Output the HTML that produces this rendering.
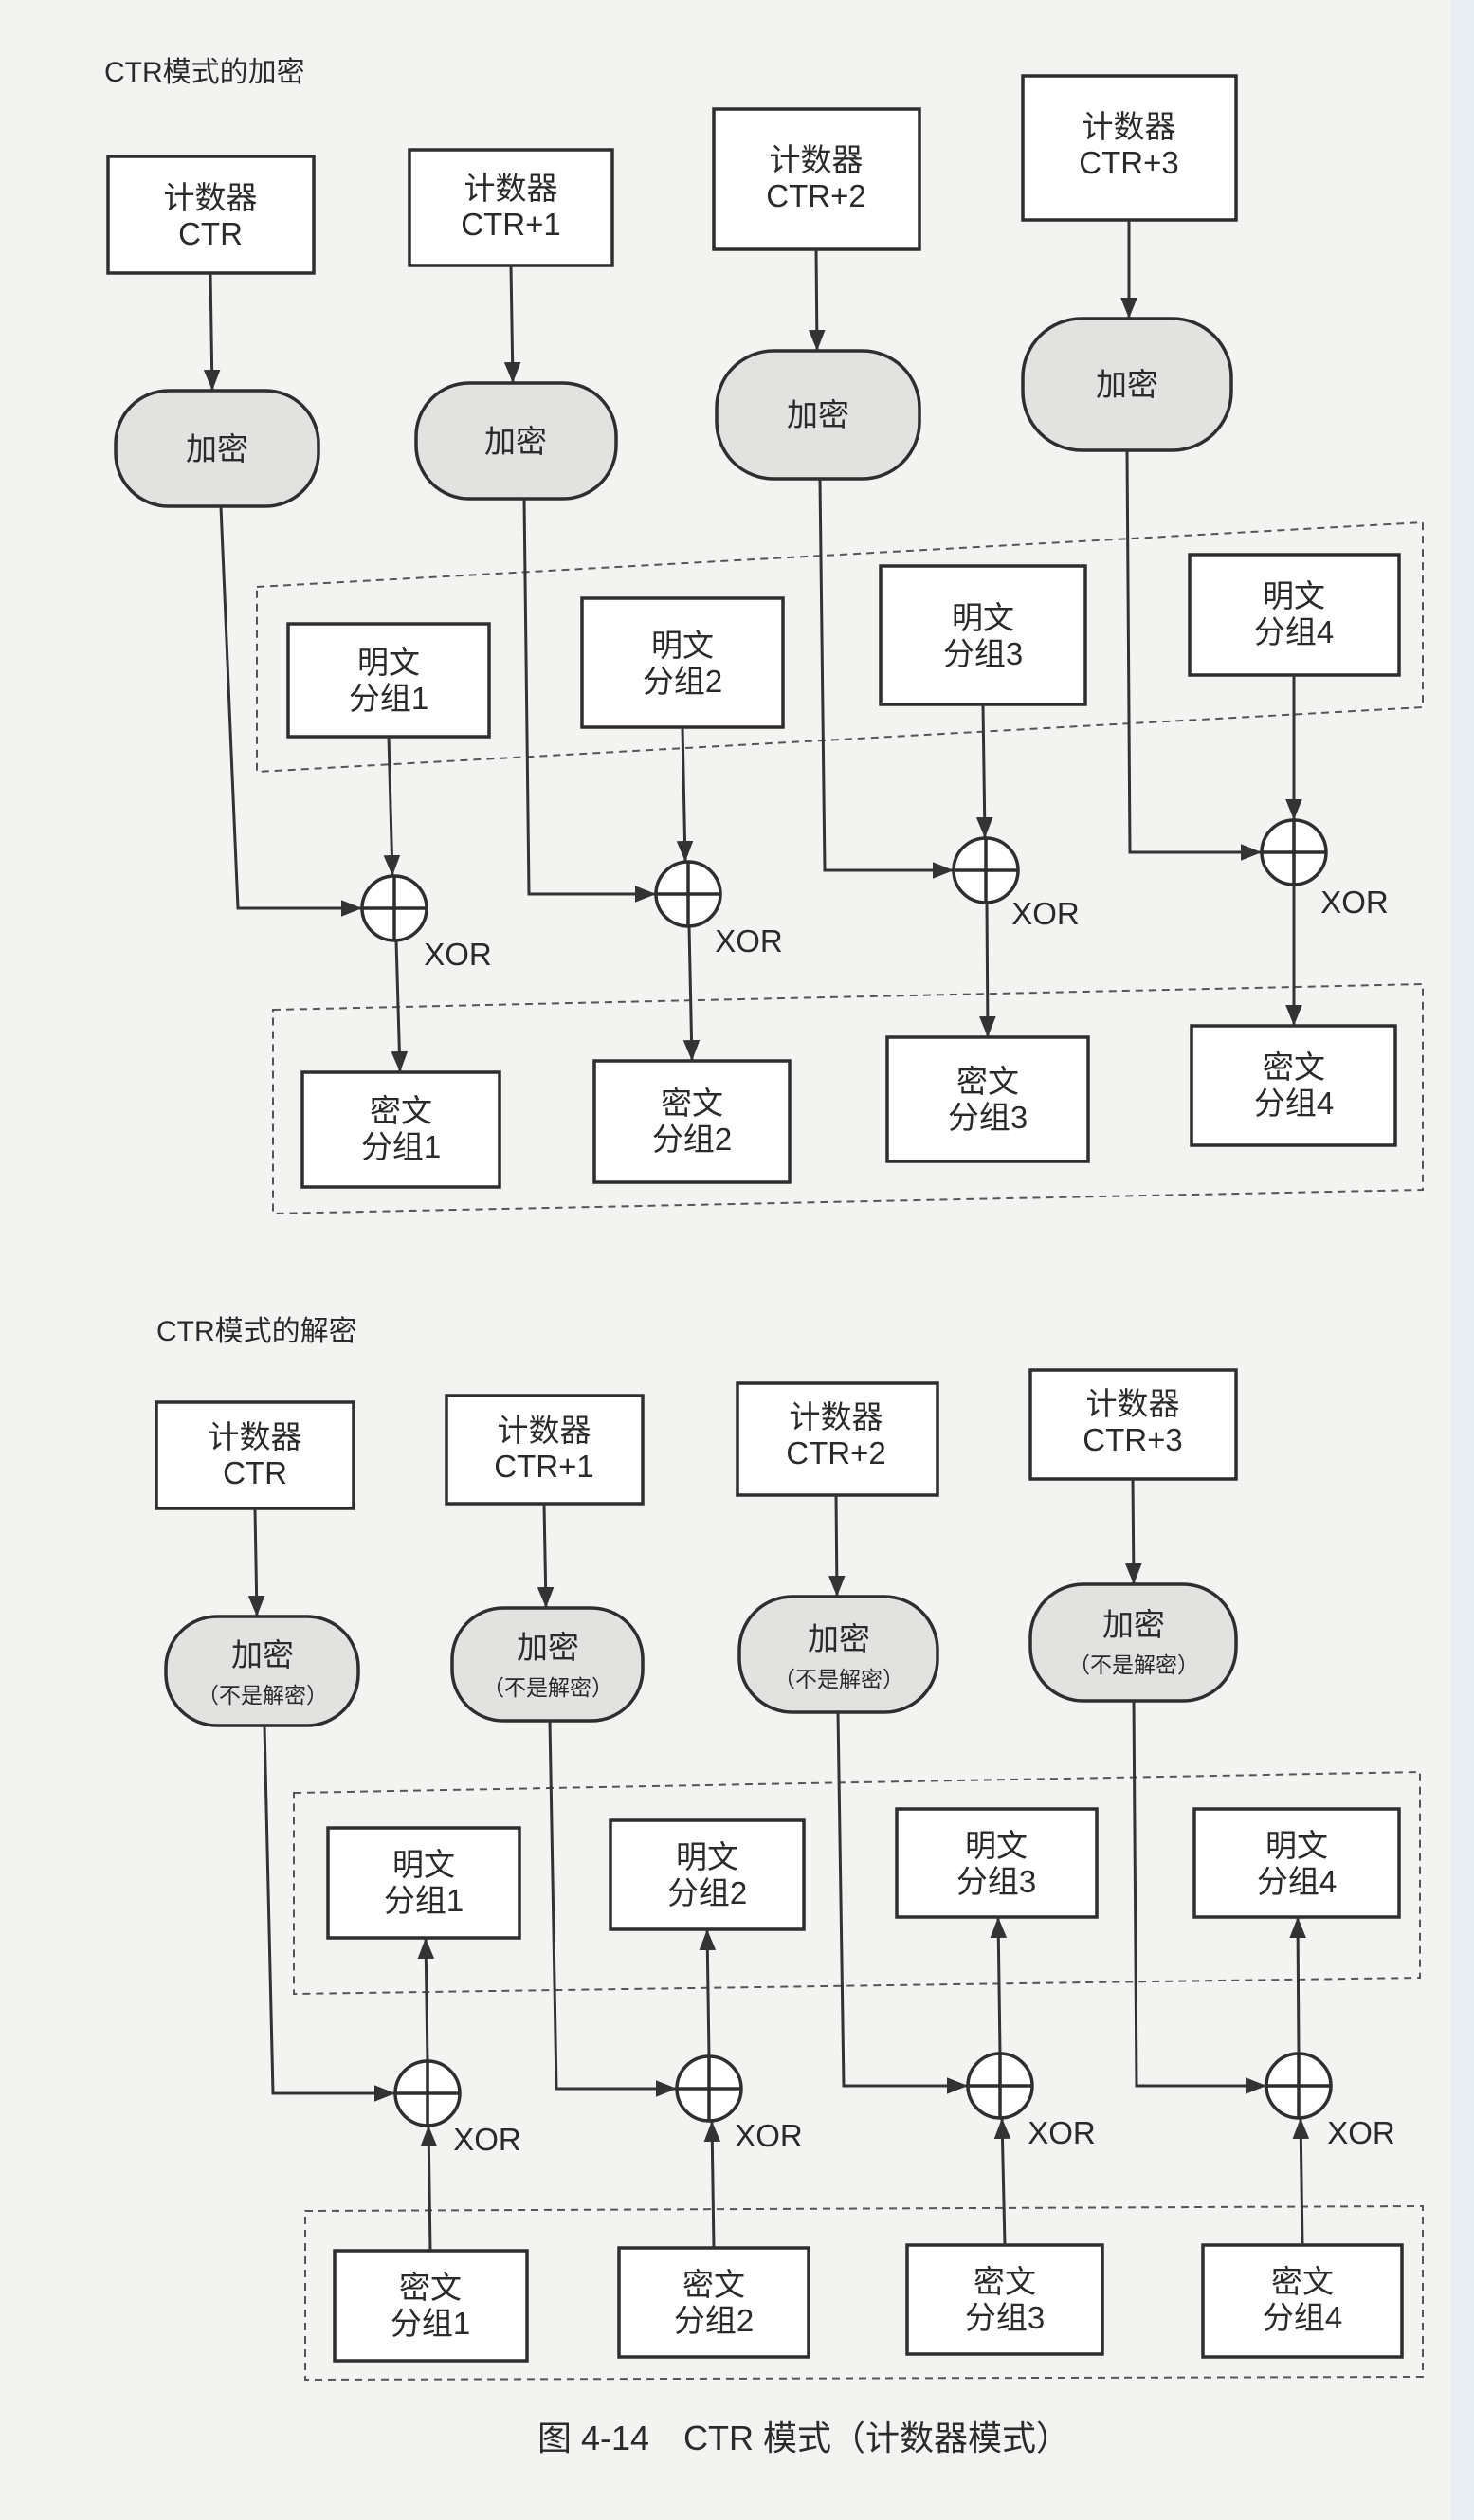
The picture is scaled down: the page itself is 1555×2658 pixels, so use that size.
<!DOCTYPE html>
<html><head><meta charset="utf-8"><style>
html,body{margin:0;padding:0;background:#f3f3f1;}
svg{display:block}
text{font-family:"Liberation Sans","Noto Sans CJK SC",sans-serif;fill:#2a2a2a;text-anchor:middle}
</style></head><body>
<svg width="1555" height="2658" viewBox="0 0 1555 2658" xmlns="http://www.w3.org/2000/svg">
<defs>
<marker id="b" viewBox="0 0 10 10" refX="10" refY="5" markerWidth="22" markerHeight="22" markerUnits="userSpaceOnUse" orient="auto"><path d="M0,1 L10,5 L0,9 z" fill="#333"/></marker>
</defs>
<rect x="1530" y="0" width="25" height="2658" fill="#e8edf2"/>
<g stroke="#2e2e2e" stroke-width="3.5" fill="#fff">
<rect x="114" y="165" width="217" height="123"/>
<rect x="432" y="158" width="214" height="122"/>
<rect x="753" y="115" width="217" height="148"/>
<rect x="1079" y="80" width="225" height="152"/>
<rect x="304" y="658" width="212" height="119"/>
<rect x="614" y="631" width="212" height="136"/>
<rect x="929" y="597" width="216" height="146"/>
<rect x="1255" y="585" width="221" height="127"/>
<rect x="319" y="1131" width="208" height="121"/>
<rect x="627" y="1119" width="206" height="128"/>
<rect x="936" y="1094" width="212" height="131"/>
<rect x="1257" y="1082" width="215" height="126"/>
<rect x="165" y="1479" width="208" height="112"/>
<rect x="471" y="1472" width="207" height="114"/>
<rect x="778" y="1459" width="211" height="118"/>
<rect x="1087" y="1445" width="217" height="115"/>
<rect x="346" y="1928" width="202" height="116"/>
<rect x="644" y="1920" width="204" height="115"/>
<rect x="946" y="1908" width="211" height="114"/>
<rect x="1260" y="1908" width="216" height="114"/>
<rect x="353" y="2374" width="203" height="116"/>
<rect x="653" y="2371" width="200" height="115"/>
<rect x="957" y="2368" width="206" height="115"/>
<rect x="1269" y="2368" width="210" height="118"/>
</g>
<g stroke="#2e2e2e" stroke-width="3.5" fill="#e2e2e0">
<rect x="122" y="412" width="214" height="122" rx="56"/>
<rect x="439" y="404" width="211" height="122" rx="56"/>
<rect x="756" y="370" width="214" height="135" rx="60"/>
<rect x="1079" y="336" width="220" height="139" rx="62"/>
<rect x="175" y="1705" width="203" height="115" rx="54"/>
<rect x="477" y="1696" width="201" height="119" rx="54"/>
<rect x="780" y="1684" width="209" height="122" rx="56"/>
<rect x="1087" y="1671" width="217" height="123" rx="56"/>
</g>
<g stroke="#555" stroke-width="2" stroke-dasharray="8,6" fill="none">
<polygon points="271,619 1501,551 1501,746 271,814"/>
<polygon points="288,1065 1501,1038 1501,1255 288,1280"/>
<polygon points="310,1891 1498,1869 1498,2086 310,2103"/>
<polygon points="322,2332 1501,2327 1501,2507 322,2510"/>
</g>
<g stroke="#333" stroke-width="3" fill="none" marker-end="url(#b)">
<line x1="222" y1="288" x2="224" y2="412"/>
<line x1="539" y1="280" x2="541" y2="404"/>
<line x1="861" y1="263" x2="862" y2="370"/>
<line x1="1191" y1="232" x2="1191" y2="336"/>
<polyline points="233,534 251,958 382,958"/>
<polyline points="553,526 558,943 692,943"/>
<polyline points="865,505 870,918 1006,918"/>
<polyline points="1189,475 1192,899 1331,899"/>
<line x1="410" y1="777" x2="414" y2="924"/>
<line x1="720" y1="767" x2="723" y2="909"/>
<line x1="1037" y1="743" x2="1039" y2="884"/>
<line x1="1365" y1="712" x2="1365" y2="865"/>
<line x1="418" y1="992" x2="422" y2="1131"/>
<line x1="727" y1="977" x2="730" y2="1119"/>
<line x1="1041" y1="952" x2="1042" y2="1094"/>
<line x1="1365" y1="933" x2="1365" y2="1082"/>
<line x1="269" y1="1591" x2="271" y2="1705"/>
<line x1="574" y1="1586" x2="576" y2="1696"/>
<line x1="882" y1="1577" x2="883" y2="1684"/>
<line x1="1195" y1="1560" x2="1196" y2="1671"/>
<polyline points="279,1820 288,2208 417,2208"/>
<polyline points="580,1815 587,2203 714,2203"/>
<polyline points="884,1806 890,2200 1021,2200"/>
<polyline points="1196,1794 1199,2200 1336,2200"/>
<line x1="451" y1="2174" x2="449" y2="2044"/>
<line x1="748" y1="2169" x2="746" y2="2035"/>
<line x1="1055" y1="2166" x2="1053" y2="2022"/>
<line x1="1370" y1="2166" x2="1369" y2="2022"/>
<line x1="454" y1="2374" x2="452" y2="2242"/>
<line x1="753" y1="2371" x2="751" y2="2237"/>
<line x1="1060" y1="2368" x2="1057" y2="2234"/>
<line x1="1374" y1="2368" x2="1372" y2="2234"/>
</g>
<g stroke="#2e2e2e" stroke-width="3.5" fill="#fff">
<circle cx="416" cy="958" r="34"/><circle cx="726" cy="943" r="34"/><circle cx="1040" cy="918" r="34"/><circle cx="1365" cy="899" r="34"/>
<circle cx="451" cy="2208" r="34"/><circle cx="748" cy="2203" r="34"/><circle cx="1055" cy="2200" r="34"/><circle cx="1370" cy="2200" r="34"/>
</g>
<g stroke="#2e2e2e" stroke-width="3.5">
<path d="M382,958h68M416,924v68"/><path d="M692,943h68M726,909v68"/><path d="M1006,918h68M1040,884v68"/><path d="M1331,899h68M1365,865v68"/>
<path d="M417,2208h68M451,2174v68"/><path d="M714,2203h68M748,2169v68"/><path d="M1021,2200h68M1055,2166v68"/><path d="M1336,2200h68M1370,2166v68"/>
</g>
<g font-size="33">
<text x="110" y="86" style="text-anchor:start" font-size="30">CTR模式的加密</text>
<text x="222" y="220">计数器</text><text x="222" y="258">CTR</text>
<text x="539" y="210">计数器</text><text x="539" y="248">CTR+1</text>
<text x="861" y="180">计数器</text><text x="861" y="218">CTR+2</text>
<text x="1191" y="145">计数器</text><text x="1191" y="183">CTR+3</text>
<text x="229" y="485">加密</text><text x="544" y="477">加密</text><text x="863" y="449">加密</text><text x="1189" y="417">加密</text>
<text x="410" y="710">明文</text><text x="410" y="748">分组1</text>
<text x="720" y="692">明文</text><text x="720" y="730">分组2</text>
<text x="1037" y="663">明文</text><text x="1037" y="701">分组3</text>
<text x="1365" y="640">明文</text><text x="1365" y="678">分组4</text>
<text x="423" y="1183">密文</text><text x="423" y="1221">分组1</text>
<text x="730" y="1175">密文</text><text x="730" y="1213">分组2</text>
<text x="1042" y="1152">密文</text><text x="1042" y="1190">分组3</text>
<text x="1365" y="1137">密文</text><text x="1365" y="1175">分组4</text>
<text x="483" y="1018">XOR</text><text x="790" y="1004">XOR</text><text x="1103" y="975">XOR</text><text x="1429" y="963">XOR</text>
<text x="165" y="1414" style="text-anchor:start" font-size="30">CTR模式的解密</text>
<text x="269" y="1527">计数器</text><text x="269" y="1565">CTR</text>
<text x="574" y="1520">计数器</text><text x="574" y="1558">CTR+1</text>
<text x="882" y="1506">计数器</text><text x="882" y="1544">CTR+2</text>
<text x="1195" y="1492">计数器</text><text x="1195" y="1530">CTR+3</text>
<text x="277" y="1757">加密</text><text x="277" y="1796" font-size="23">（不是解密）</text>
<text x="578" y="1749">加密</text><text x="578" y="1788" font-size="23">（不是解密）</text>
<text x="885" y="1740">加密</text><text x="885" y="1779" font-size="23">（不是解密）</text>
<text x="1196" y="1725">加密</text><text x="1196" y="1764" font-size="23">（不是解密）</text>
<text x="447" y="1978">明文</text><text x="447" y="2016">分组1</text>
<text x="746" y="1970">明文</text><text x="746" y="2008">分组2</text>
<text x="1051" y="1958">明文</text><text x="1051" y="1996">分组3</text>
<text x="1368" y="1958">明文</text><text x="1368" y="1996">分组4</text>
<text x="454" y="2424">密文</text><text x="454" y="2462">分组1</text>
<text x="753" y="2421">密文</text><text x="753" y="2459">分组2</text>
<text x="1060" y="2418">密文</text><text x="1060" y="2456">分组3</text>
<text x="1374" y="2418">密文</text><text x="1374" y="2456">分组4</text>
<text x="514" y="2268">XOR</text><text x="811" y="2264">XOR</text><text x="1120" y="2261">XOR</text><text x="1436" y="2261">XOR</text>
<text x="848" y="2584" font-size="36">图 4-14　CTR 模式（计数器模式）</text>
</g>
</svg>
</body></html>
